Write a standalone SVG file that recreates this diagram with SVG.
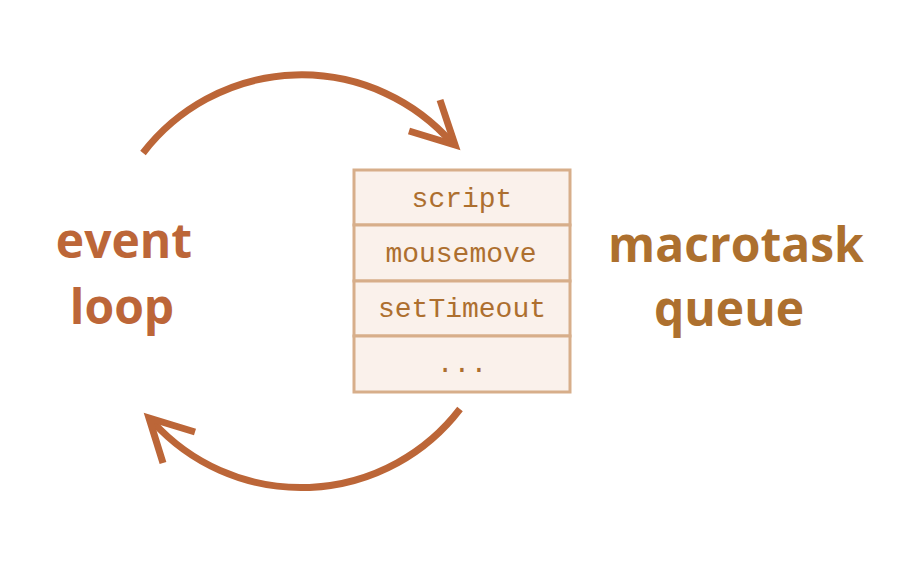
<svg xmlns="http://www.w3.org/2000/svg" width="900" height="570" viewBox="0 0 900 570">
<style>
.arc{fill:none;stroke:#BC6638;stroke-width:7;stroke-linejoin:miter;stroke-linecap:butt}
.cell{fill:#FAF1EB;stroke:#D7AE8A;stroke-width:3}
.mono{font-family:"Liberation Mono",monospace;font-size:28px;fill:#AD6F2F;text-anchor:middle}
.lbl{font-family:"Open Sans",sans-serif;font-weight:bold;font-size:48px;text-anchor:middle}
</style>
<rect width="900" height="570" fill="#fff"/>
<g id="connectors">
<path class="arc" d="M143,153 A200,200 0 0 1 452,143"/>
<polyline class="arc" points="409,131 455,145 440,100"/>
<path class="arc" d="M460,409 A200,200 0 0 1 153,422"/>
<polyline class="arc" points="195,432 149,418 163,463"/>
</g>
<g id="queue">
<rect class="cell" x="354" y="170" width="216" height="55"/>
<rect class="cell" x="354" y="225" width="216" height="56"/>
<rect class="cell" x="354" y="281" width="216" height="55"/>
<rect class="cell" x="354" y="336" width="216" height="56"/>
<text class="mono" x="462" y="207">script</text>
<text class="mono" x="461" y="262">mousemove</text>
<text class="mono" x="462" y="317">setTimeout</text>
<text class="mono" x="462" y="372">...</text>
</g>
<g id="event-loop">
<text class="lbl" x="124" y="258" fill="#BC6638">event</text>
<text class="lbl" x="122" y="324" fill="#BC6638">loop</text>
</g>
<g id="macrotask-queue">
<text class="lbl" x="736" y="262" fill="#AD702E">macrotask</text>
<text class="lbl" x="729" y="326" fill="#AD702E">queue</text>
</g>
</svg>
